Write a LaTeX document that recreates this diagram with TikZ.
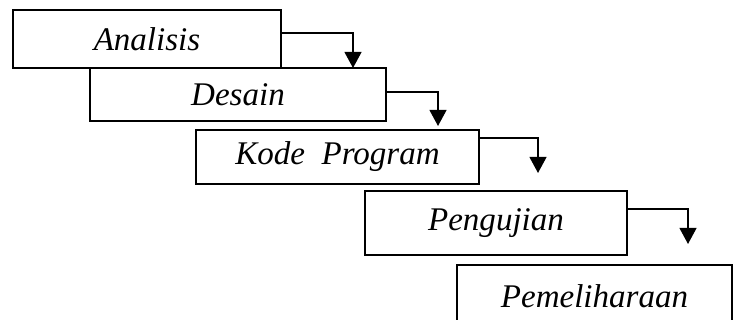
\documentclass[tikz,border=0pt]{standalone}
\usepackage{fontspec}
\setmainfont{Liberation Serif}
\usepackage{tikz}
\usetikzlibrary{arrows.meta}

\tikzset{
    phase/.style={draw,line width=1.3pt,rectangle,inner sep=0pt,
        font=\fontsize{23.5}{28}\selectfont\itshape},
    flow/.style={line width=1.3pt,-{Triangle[length=0.4cm,width=0.42cm]}}
}

\begin{document}
\begin{tikzpicture}[x=0.025cm,y=-0.025cm]
    % Canvas
    \useasboundingbox (0,0) rectangle (734,320);
    \clip (0,0) rectangle (734,320);

    % Phases
    \node[phase,minimum width=268*0.025cm,minimum height=58*0.025cm] (analisis) at (147,39) {Analisis};
    \node[phase,minimum width=296*0.025cm,minimum height=53*0.025cm] (desain) at (238,94.5) {Desain};
    \node[phase,minimum width=283*0.025cm,minimum height=54*0.025cm] (kode) at (337.5,157) {Kode\ \ Program};
    \node[phase,minimum width=262*0.025cm,minimum height=64*0.025cm] (uji) at (496,223) {Pengujian};
    \node[phase,minimum width=275*0.025cm,minimum height=62*0.025cm] (pelihara) at (594.5,296) {Pemeliharaan};

    % Arrow ends
    \coordinate (t1) at (353,68);
    \coordinate (t2) at (438,126);
    \coordinate (t3) at (538,173);
    \coordinate (t4) at (688,244);

    % Flow between phases
    \draw[flow] (analisis.east) ++(0,-6) -| (t1);
    \draw[flow] (desain.east) ++(0,-2.5) -| (t2);
    \draw[flow] (kode.east) ++(0,-19) -| (t3);
    \draw[flow] (uji.east) ++(0,-14) -| (t4);
\end{tikzpicture}
\end{document}
